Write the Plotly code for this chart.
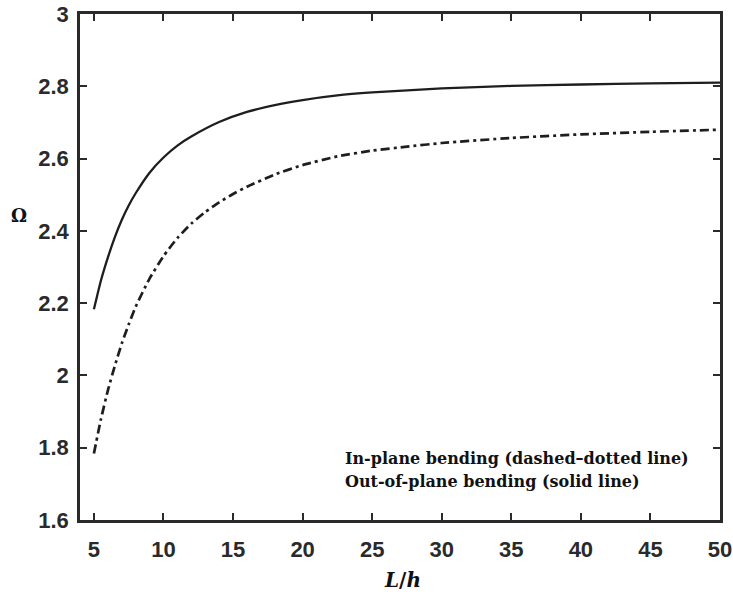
import plotly.graph_objects as go

# Out-of-plane bending: slenderness ratio L/h and frequency (solid line)
slenderness_out = [5, 5.5, 6, 6.5, 7, 7.5, 8, 9, 10, 11, 12, 14, 16, 18, 20, 22.5, 25,
                   30, 35, 40, 45, 50]
omega_out_of_plane = [2.183, 2.262, 2.326, 2.382, 2.430, 2.470, 2.504, 2.561, 2.603, 2.636,
                      2.661, 2.701, 2.729, 2.748, 2.762, 2.775, 2.783, 2.794, 2.801, 2.805,
                      2.808, 2.810]

# In-plane bending: slenderness ratio L/h and frequency (dashed-dotted line)
slenderness_in = [5, 5.5, 6, 6.5, 7, 7.5, 8, 9, 10, 11, 12, 13, 14, 15, 16, 18, 20, 22.5,
                  25, 27.5, 30, 35, 40, 45, 50]
omega_in_plane = [1.784, 1.878, 1.958, 2.026, 2.088, 2.141, 2.190, 2.268, 2.330, 2.380,
                  2.420, 2.452, 2.479, 2.502, 2.522, 2.556, 2.582, 2.606, 2.622, 2.633,
                  2.643, 2.657, 2.667, 2.674, 2.680]

x_ticks = [5, 10, 15, 20, 25, 30, 35, 40, 45, 50]
y_ticks = [1.6, 1.8, 2.0, 2.2, 2.4, 2.6, 2.8, 3.0]
y_tick_text = ["1.6", "1.8", "2", "2.2", "2.4", "2.6", "2.8", "3"]

ink = "#1e1e1e"

fig = go.Figure()
fig.add_trace(go.Scatter(x=slenderness_out, y=omega_out_of_plane, mode="lines",
                         line=dict(color=ink, width=2.3, shape="spline", smoothing=0.5),
                         showlegend=False))
fig.add_trace(go.Scatter(x=slenderness_in, y=omega_in_plane, mode="lines",
                         line=dict(color=ink, width=2.7, dash="9px,4px,3px,4px",
                                   shape="spline", smoothing=0.5),
                         showlegend=False))

tick_font = dict(family="Liberation Sans, Arial, sans-serif", size=22, color="#2a2a2a", weight="bold")
axis_common = dict(showline=True, linecolor="#2a2a2a", linewidth=2.5, mirror="ticks",
                   ticks="inside", ticklen=7, tickwidth=2, tickcolor="#2a2a2a",
                   showgrid=False, zeroline=False, tickfont=tick_font, automargin=False)

fig.update_xaxes(range=[4, 50], tickvals=x_ticks, ticklabelstandoff=8, **axis_common)
fig.update_yaxes(range=[1.6, 3.0], tickvals=y_ticks, ticktext=y_tick_text,
                 ticklabelstandoff=4, **axis_common)

serif = "DejaVu Serif, Liberation Serif, serif"
fig.add_annotation(text="In-plane bending (dashed–dotted line)", xref="paper", yref="paper",
                   x=0.411, y=0.1206, xanchor="left", yanchor="middle", showarrow=False,
                   font=dict(family=serif, size=16, color="#111", weight="bold"))
fig.add_annotation(text="Out-of-plane bending (solid line)", xref="paper", yref="paper",
                   x=0.411, y=0.0751, xanchor="left", yanchor="middle", showarrow=False,
                   font=dict(family=serif, size=16, color="#111", weight="bold"))

# Axis titles placed as free text
fig.add_annotation(text="Ω", xref="paper", yref="paper", x=(19 - 80) / 640, y=(520 - 215) / 506,
                   xanchor="center", yanchor="middle", showarrow=False,
                   font=dict(family=serif, size=18, color="#111", weight="bold"))
fig.add_annotation(text="<i>L</i>/<i>h</i>", xref="paper", yref="paper", x=(402 - 80) / 640,
                   y=(520 - 580) / 506, xanchor="center", yanchor="middle", showarrow=False,
                   font=dict(family=serif, size=20, color="#111", weight="bold"))

fig.update_layout(width=733, height=594, margin=dict(l=80, r=13, t=14, b=74),
                  plot_bgcolor="white", paper_bgcolor="white")

fig.write_html("out.html")
